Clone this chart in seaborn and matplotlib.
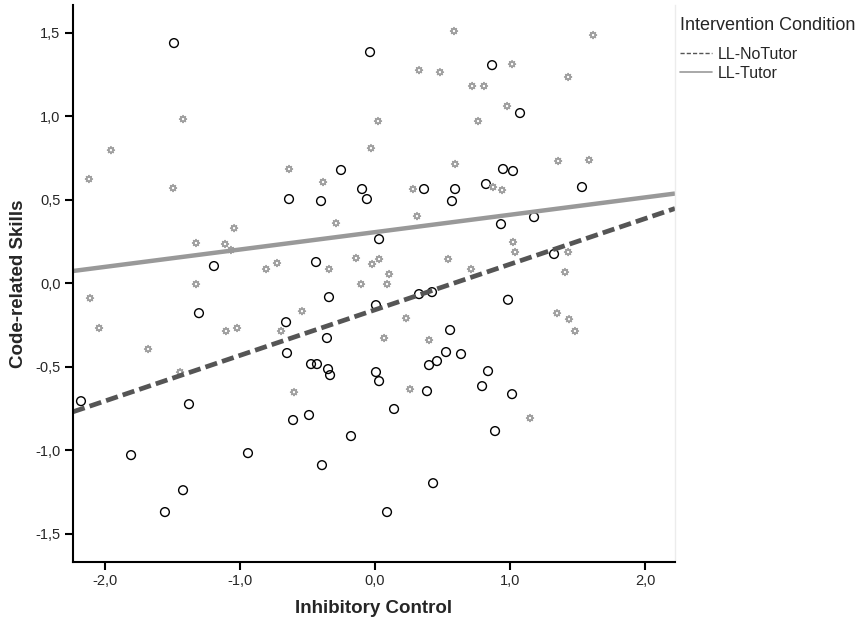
import numpy as np
import pandas as pd
import matplotlib.pyplot as plt
import seaborn as sns
from matplotlib.lines import Line2D
from matplotlib.ticker import FuncFormatter

# Inhibitory control / code-related skills, LL-NoTutor group (open circles)
notutor_x = [-1.489, -0.037, 0.867, 1.074, -0.252, -0.096, -0.06, -0.637, -0.4, -1.193,
             -0.437, -0.341, 0.948, 1.022, 0.363, 0.593, 0.57, 0.822, 1.533, 1.178,
             0.933, 0.03, 1.326, 0.326, 0.422, 0.985, -1.304, -0.659, -0.356, -0.652,
             -0.474, -0.43, -0.348, -0.333, -2.178, -1.378, -0.489, -0.607, -0.178, -1.807,
             -0.941, -0.393, -1.422, -1.556, 0.007, 0.556, 0.526, 0.637, 0.459, 0.4,
             0.007, 0.03, 0.837, 0.793, 0.385, 1.015, 0.141, 0.889, 0.43, 0.089]
notutor_y = [1.437, 1.383, 1.305, 1.018, 0.677, 0.563, 0.503, 0.503, 0.491, 0.102,
             0.126, -0.084, 0.683, 0.671, 0.563, 0.563, 0.491, 0.593, 0.575, 0.395,
             0.353, 0.263, 0.174, -0.066, -0.054, -0.1, -0.18, -0.234, -0.329, -0.419,
             -0.485, -0.485, -0.515, -0.551, -0.707, -0.725, -0.79, -0.82, -0.916, -1.03,
             -1.018, -1.09, -1.24, -1.371, -0.132, -0.281, -0.413, -0.425, -0.467, -0.491,
             -0.533, -0.587, -0.527, -0.617, -0.647, -0.665, -0.754, -0.886, -1.198, -1.371]

# LL-Tutor group (grey stars)
tutor_x = [-2.119, -1.956, -1.422, -1.496, -0.637, -0.385, -0.289, -1.044, -1.326, -1.111,
           -1.067, -0.807, -0.726, -0.341, -0.141, -0.03, -0.104, -1.326, -2.111, 0.585,
           1.615, 0.326, 0.481, 1.015, 1.43, 0.719, 0.807, 0.978, 0.763, 0.022,
           0.593, 1.356, 1.585, 0.281, 0.874, 0.941, 0.311, 1.022, 1.037, 1.43,
           0.541, 0.711, -0.022, 0.03, 0.104, 0.089, 1.407, -2.044, -1.681, -1.444,
           -1.104, -1.022, -0.696, -0.541, -0.6, 0.23, 0.067, 0.4, 0.259, 1.348,
           1.437, 1.481, 1.148]
tutor_y = [0.623, 0.796, 0.982, 0.569, 0.683, 0.605, 0.359, 0.329, 0.24, 0.234,
           0.198, 0.084, 0.12, 0.084, 0.15, 0.808, -0.006, -0.006, -0.09, 1.509,
           1.485, 1.275, 1.263, 1.311, 1.234, 1.18, 1.18, 1.06, 0.97, 0.97,
           0.713, 0.731, 0.737, 0.563, 0.575, 0.557, 0.401, 0.246, 0.186, 0.186,
           0.144, 0.084, 0.114, 0.144, 0.054, -0.006, 0.066, -0.269, -0.395, -0.533,
           -0.287, -0.269, -0.287, -0.168, -0.653, -0.21, -0.329, -0.341, -0.635, -0.18,
           -0.216, -0.287, -0.808]

groups = ["LL-NoTutor", "LL-Tutor"]
# linear fit lines as shown in the chart (intercept, slope)
fit_intercept = [-0.160, 0.305]
fit_slope = [0.273, 0.104]
x_ticks = [-2.0, -1.0, 0.0, 1.0, 2.0]
y_ticks = [-1.5, -1.0, -0.5, 0.0, 0.5, 1.0, 1.5]

df = pd.DataFrame({
    "Inhibitory Control": notutor_x + tutor_x,
    "Code-related Skills": notutor_y + tutor_y,
    "Condition": [groups[0]] * len(notutor_x) + [groups[1]] * len(tutor_x),
})

sns.set_style("white")
plt.rcParams['font.family'] = ['Liberation Sans', 'DejaVu Sans']

fig = plt.figure(figsize=(8.63, 6.23), dpi=100)
ax = fig.add_axes([73 / 863, 1 - 562 / 623, 602 / 863, 557 / 623])

no = df[df["Condition"] == groups[0]]
tu = df[df["Condition"] == groups[1]]

# scatter points
sns.scatterplot(data=no, x="Inhibitory Control", y="Code-related Skills", ax=ax,
                marker="o", s=40, facecolor="none", edgecolor="black", linewidth=1.0,
                legend=False)
sns.scatterplot(data=tu, x="Inhibitory Control", y="Code-related Skills", ax=ax,
                marker=(8, 1, 0), s=26, facecolor="none", edgecolor="#a0a0a0", linewidth=1.0,
                legend=False)

# fit lines
ax.axline((0, fit_intercept[1]), slope=fit_slope[1], color="#999999", lw=3.2,
          solid_capstyle="butt")
ax.axline((0, fit_intercept[0]), slope=fit_slope[0], color="#555555", lw=3.4,
          ls=(0, (2.6, 1.1)))

ax.set_xlim(-2.237, 2.222)
ax.set_ylim(-1.67, 1.665)
ax.set_xticks(x_ticks)
ax.set_yticks(y_ticks)
comma = FuncFormatter(lambda v, p: f"{v:.1f}".replace(".", ","))
ax.xaxis.set_major_formatter(comma)
ax.yaxis.set_major_formatter(comma)
ax.tick_params(axis="both", which="major", length=6, width=1.5, color="black",
               labelsize=10.5, direction="out", bottom=True, left=True)
ax.tick_params(axis="x", pad=2.5)
ax.tick_params(axis="y", pad=3)

ax.spines["top"].set_visible(False)
ax.spines["right"].set_color("#ececec")
ax.spines["right"].set_linewidth(1)
for side in ["left", "bottom"]:
    ax.spines[side].set_color("black")
    ax.spines[side].set_linewidth(1.5)

ax.set_xlabel("Inhibitory Control", fontsize=13.5, fontweight="bold", labelpad=9)
ax.set_ylabel("Code-related Skills", fontsize=13.5, fontweight="bold", labelpad=6)

handles = [Line2D([0], [0], color="#555555", lw=1, ls=(0, (3, 1.5))),
           Line2D([0], [0], color="#999999", lw=1.2)]
leg = fig.legend(handles, groups, title="Intervention Condition", loc="upper left",
                 bbox_to_anchor=(674 / 863, 1 - 11 / 623), frameon=False, fontsize=11.5,
                 title_fontsize=13, alignment="left", handlelength=2.0, handletextpad=0.35,
                 labelspacing=0.25, borderaxespad=0)
leg._legend_box.sep = 9  # a bit more room under the title

fig.savefig("out.png", dpi=100)
